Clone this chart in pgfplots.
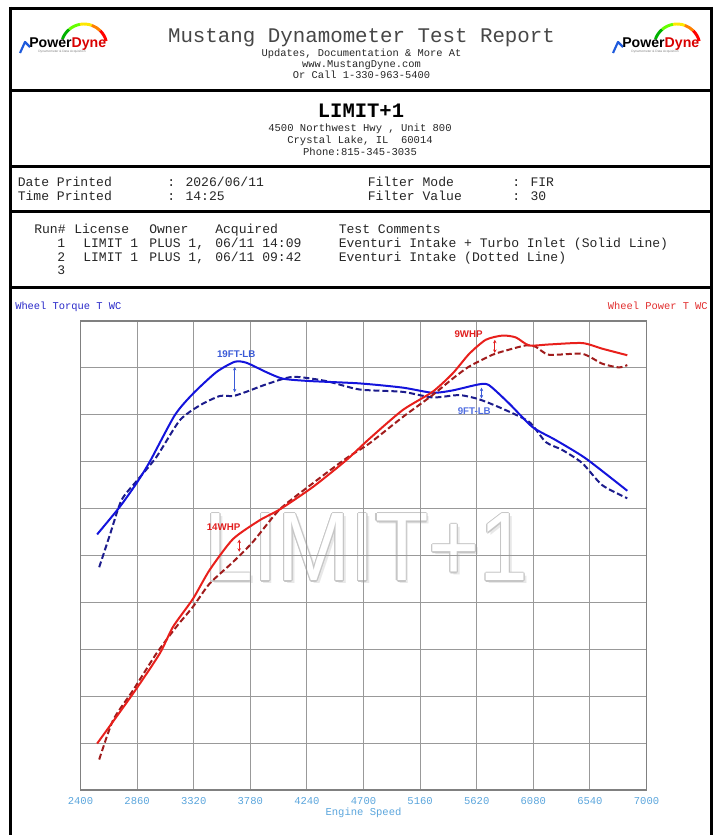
\documentclass[border=0pt]{standalone}
\usepackage{fontspec}
\setmainfont{Liberation Mono}
\newfontfamily\sansf{Liberation Sans}
\usepackage{pgfplots}
\pgfplotsset{compat=1.18}
\usetikzlibrary{arrows.meta}
\definecolor{tqsolid}{RGB}{20,20,220}
\definecolor{tqdash}{RGB}{28,28,140}
\definecolor{pwsolid}{RGB}{232,32,28}
\definecolor{pwdash}{RGB}{160,28,28}
\definecolor{annblue}{RGB}{58,90,215}
\definecolor{annblue2}{RGB}{80,110,225}
\definecolor{annred}{RGB}{225,30,30}
\definecolor{tickblue}{RGB}{90,165,220}
\definecolor{lblblue}{RGB}{40,40,200}
\definecolor{lblred}{RGB}{225,45,45}
\definecolor{logoblue}{RGB}{30,90,220}
\newcommand{\fs}[1]{\fontsize{#1}{#1}\selectfont}
\newcommand{\logo}[1]{%
\begin{scope}[shift={(#1,0)}]
 \draw[logoblue, line width=1.6pt, line join=round] (20,53) -- (25,42) -- (30,47);
 \draw[green!70!black, line width=2.2pt] (84,47) ++(-160:23) arc[start angle=-160,end angle=-130,radius=23];
 \draw[green!60!yellow, line width=2.2pt] (84,47) ++(-130:23) arc[start angle=-130,end angle=-100,radius=23];
 \draw[yellow!90!orange, line width=2.2pt] (84,47) ++(-100:23) arc[start angle=-100,end angle=-70,radius=23];
 \draw[orange, line width=2.2pt] (84,47) ++(-70:23) arc[start angle=-70,end angle=-45,radius=23];
 \draw[red, line width=2.2pt] (84,47) ++(-45:23) arc[start angle=-45,end angle=-15,radius=23];
 \node[anchor=base west, inner sep=0pt, font=\sansf\bfseries\fs{10.6pt}] at (29,47) {Power\textcolor{red!85!black}{Dyne}};
 \node[anchor=center, inner sep=0pt, font=\sansf\fs{2.4pt}, text=gray] at (62,51.5) {Dynamometer \& Data Acquisition};
\end{scope}}
\begin{document}
\begin{tikzpicture}
\path[use as bounding box] (0,0) rectangle (539.25pt,-626.25pt);
\begin{scope}[x=0.75pt,y=-0.75pt]
 % frame
 \draw[line width=2.25pt] (10,8) -- (711,8);
 \draw[line width=2.25pt] (10,90) -- (711,90);
 \draw[line width=2.25pt] (10,166) -- (711,166);
 \draw[line width=2.25pt] (10,211) -- (711,211);
 \draw[line width=2.25pt] (10,287) -- (711,287);
 \draw[line width=2.25pt] (10,6.9) -- (10,836);
 \draw[line width=2.25pt] (711,6.9) -- (711,836);
 % logos
 \logo{0}
 \logo{593}
 % header
 \node[anchor=base, inner sep=0pt, font=\fs{15.6pt}, text=black!72] at (361.5,42.5) {Mustang Dynamometer Test Report};
 \node[anchor=base, inner sep=0pt, font=\fs{7.8pt}, text=black!85] at (361.5,56.5) {Updates, Documentation \& More At};
 \node[anchor=base, inner sep=0pt, font=\fs{7.8pt}, text=black!85] at (361.5,67.5) {www.MustangDyne.com};
 \node[anchor=base, inner sep=0pt, font=\fs{7.8pt}, text=black!85] at (361.5,78.5) {Or Call 1-330-963-5400};
 % shop box
 \node[anchor=base, inner sep=0pt, font=\bfseries\fs{15.4pt}] at (361,117) {LIMIT+1};
 \node[anchor=base, inner sep=0pt, font=\fs{7.9pt}, text=black!85] at (360,131) {4500 Northwest Hwy , Unit 800};
 \node[anchor=base, inner sep=0pt, font=\fs{7.9pt}, text=black!85] at (360,143.5) {Crystal Lake, IL\ \ 60014};
 \node[anchor=base, inner sep=0pt, font=\fs{7.9pt}, text=black!85] at (360,155.5) {Phone:815-345-3035};
 % date box
 \begin{scope}[every node/.style={anchor=base west, inner sep=0pt, font=\fs{9.8pt}, text=black!85}]
  \node at (17.5,186) {Date Printed};
  \node at (167,186) {: 2026/06/11};
  \node at (367.5,186) {Filter Mode};
  \node at (512,186) {: FIR};
  \node at (17.5,200.5) {Time Printed};
  \node at (167,200.5) {: 14:25};
  \node at (367.5,200.5) {Filter Value};
  \node at (512,200.5) {: 30};
  % runs
  \node at (34,233) {Run\#};
  \node at (74,233) {License};
  \node at (149,233) {Owner};
  \node at (215,233) {Acquired};
  \node at (338.5,233) {Test Comments};
  \node at (57,247) {1};
  \node at (83,247) {LIMIT 1};
  \node at (149,247) {PLUS 1,};
  \node at (215,247) {06/11 14:09};
  \node at (338.5,247) {Eventuri Intake + Turbo Inlet (Solid Line)};
  \node at (57,261) {2};
  \node at (83,261) {LIMIT 1};
  \node at (149,261) {PLUS 1,};
  \node at (215,261) {06/11 09:42};
  \node at (338.5,261) {Eventuri Intake (Dotted Line)};
  \node at (57,274.5) {3};
 \end{scope}
 % chart labels
 \node[anchor=base west, inner sep=0pt, font=\fs{7.8pt}, text=lblblue] at (15,309) {Wheel Torque T WC};
 \node[anchor=base east, inner sep=0pt, font=\fs{7.8pt}, text=lblred] at (708,309) {Wheel Power T WC};
 % watermark
 \node[text=gray!18, font=\sansf\fs{73pt}, xscale=0.9] at (369,550) {LIMIT+1};
 \foreach \dx/\dy in {1.2/0,-1.2/0,0/1.2,0/-1.2,0.85/0.85,-0.85/0.85,0.85/-0.85,-0.85/-0.85}
  \node[text=gray!45, font=\sansf\fs{73pt}, xscale=0.9] at (366.5+\dx,547.5+\dy) {LIMIT+1};
 \node[text=white, font=\sansf\fs{73pt}, xscale=0.9] at (366.5,547.5) {LIMIT+1};
\end{scope}
\begin{axis}[
 at={(60.375pt,-592.5pt)}, anchor=south west, scale only axis,
 width=424.5pt, height=351.75pt,
 xmin=2400, xmax=7000, ymin=0, ymax=10,
 xtick={2400,2860,3320,3780,4240,4700,5160,5620,6080,6540,7000},
 xticklabels={2400,2860,3320,3780,4240,4700,5160,5620,6080,6540,7000},
 ytick={1,2,3,4,5,6,7,8,9}, yticklabels={},
 grid=major, grid style={draw=gray!80, line width=0.75pt},
 major tick length=0pt,
 axis line style={draw=gray, line width=1.1pt},
 xticklabel style={font=\fs{7.9pt}, text=tickblue, anchor=center, yshift=-8.25pt},
 xlabel={Engine Speed},
 xlabel style={font=\fs{7.9pt}, text=tickblue, at={(axis description cs:0.5,0)}, anchor=center, yshift=-17.25pt},
]
% torque run 2 (dashed)
\addplot[tqdash, line width=1.5pt, dash pattern=on 4.5pt off 2.2pt, smooth, tension=0.4] coordinates {
(2552,4.75) (2640,5.45) (2733,6.18) (2860,6.60) (3017,7.10) (3206,7.88) (3369,8.20) (3531,8.40) (3639,8.40) (3747,8.49) (3910,8.65) (4126,8.81) (4396,8.72) (4667,8.54) (5018,8.49) (5261,8.37) (5478,8.42) (5640,8.33) (5830,8.13) (6046,7.85) (6181,7.42) (6316,7.25) (6478,6.97) (6640,6.50) (6844,6.22)};
% torque run 1 (solid)
\addplot[tqsolid, line width=1.5pt, smooth, tension=0.4] coordinates {
(2535,5.45) (2720,6.04) (2855,6.54) (2963,7.00) (3166,7.99) (3314,8.45) (3504,8.91) (3653,9.13) (3748,9.11) (3910,8.91) (4045,8.77) (4261,8.72) (4667,8.67) (5018,8.58) (5261,8.47) (5424,8.52) (5640,8.65) (5721,8.63) (5884,8.24) (6073,7.74) (6263,7.46) (6506,7.07) (6844,6.38)};
% power run 2 (dashed)
\addplot[pwdash, line width=1.5pt, dash pattern=on 4.5pt off 2.2pt, smooth, tension=0.4] coordinates {
(2552,0.65) (2665,1.49) (2828,2.13) (3017,2.91) (3179,3.48) (3315,3.91) (3449,4.40) (3639,4.86) (3801,5.29) (4018,5.98) (4288,6.54) (4559,7.07) (4748,7.39) (5018,7.95) (5261,8.42) (5424,8.77) (5559,9.03) (5748,9.28) (5884,9.39) (6019,9.48) (6100,9.45) (6208,9.28) (6478,9.30) (6640,9.09) (6775,9.01) (6844,9.06)};
% power run 1 (solid)
\addplot[pwsolid, line width=1.5pt, smooth, tension=0.4] coordinates {
(2535,0.99) (2828,2.06) (3044,2.91) (3152,3.48) (3315,4.08) (3449,4.69) (3639,5.35) (3855,5.75) (4018,5.98) (4288,6.46) (4559,7.03) (4748,7.49) (5018,8.10) (5261,8.49) (5424,8.88) (5559,9.30) (5694,9.60) (5830,9.69) (5938,9.65) (6046,9.48) (6208,9.50) (6478,9.53) (6640,9.41) (6844,9.27)};
% annotations
\node[font=\sansf\bfseries\fs{7.3pt}, text=annblue, inner sep=0pt] at (axis cs:3666,9.30) {19FT-LB};
\draw[annblue, line width=0.7pt, {Stealth[length=2.6pt,width=2.6pt]}-{Stealth[length=2.6pt,width=2.6pt]}] (axis cs:3653,9.02) -- (axis cs:3653,8.48);
\node[font=\sansf\bfseries\fs{7.3pt}, text=annred, inner sep=0pt] at (axis cs:3563,5.60) {14WHP};
\draw[annred, line width=0.7pt, {Stealth[length=2.6pt,width=2.6pt]}-{Stealth[length=2.6pt,width=2.6pt]}] (axis cs:3690,5.34) -- (axis cs:3690,5.08);
\node[font=\sansf\bfseries\fs{7.3pt}, text=annred, inner sep=0pt] at (axis cs:5554,9.72) {9WHP};
\draw[annred, line width=0.7pt, {Stealth[length=2.6pt,width=2.6pt]}-{Stealth[length=2.6pt,width=2.6pt]}] (axis cs:5767,9.60) -- (axis cs:5767,9.32);
\node[font=\sansf\bfseries\fs{7.3pt}, text=annblue2, inner sep=0pt] at (axis cs:5600,8.08) {9FT-LB};
\draw[annblue, line width=0.7pt, {Stealth[length=2.6pt,width=2.6pt]}-{Stealth[length=2.6pt,width=2.6pt]}] (axis cs:5659,8.58) -- (axis cs:5659,8.35);
\end{axis}
\end{tikzpicture}
\end{document}
